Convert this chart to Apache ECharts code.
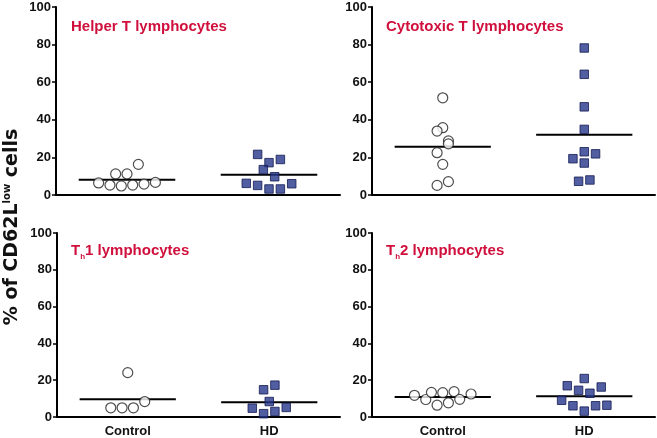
<!DOCTYPE html>
<html>
<head>
<meta charset="utf-8">
<script src="https://cdn.jsdelivr.net/npm/echarts@6/dist/echarts.min.js"></script>
<style>html,body{margin:0;padding:0;background:#fff}#c{width:657px;height:438px}</style>
</head>
<body>
<div id="c"></div>
<script>
// ---- data ----
const categories = ['Control', 'HD'];
const yTicks = [0, 20, 40, 60, 80, 100];

const helperControl = [6.4, 5.3, 4.8, 5.3, 5.8, 6.7, 11.2, 11.2, 16.3];
const helperControlJit = [-2.5, -1.5, -0.5, 0.5, 1.5, 2.5, -1, 0, 1];
const helperHD = [21.6, 17.2, 18.9, 13.5, 9.7, 6.2, 5.1, 6.0, 3.2, 3.2];
const helperHDJit = [-1, 0, 1, -0.5, 0.5, -2, -1, 2, 0, 1];
const helperMeans = [8.1, 10.8];

const cytoControl = [51.7, 35.8, 34.0, 28.8, 27.2, 22.5, 16.3, 7.1, 5.1];
const cytoControlJit = [0, 0, -0.5, 0.5, 0.5, -0.5, 0, 0.5, -0.5];
const cytoHD = [78.2, 64.2, 46.9, 34.9, 23.0, 19.3, 21.9, 17.0, 7.3, 8.0];
const cytoHDJit = [0, 0, 0, 0, 0, -1, 1, 0, -0.5, 0.5];
const cytoMeans = [25.7, 32.0];

const th1Control = [5.0, 5.0, 5.0, 8.4, 24.1];
const th1ControlJit = [-1.5, -0.5, 0.5, 1.5, 0];
const th1HD = [14.8, 17.3, 8.4, 4.8, 5.2, 1.8, 3.0];
const th1HDJit = [-0.5, 0.5, 0, -1.5, 1.5, -0.5, 0.5];
const th1Means = [9.6, 8.0];

const th2Control = [11.8, 9.5, 13.4, 6.4, 13.2, 7.7, 13.8, 9.6, 12.5];
const th2ControlJit = [-2.5, -1.5, -1, -0.5, 0, 0.5, 1, 1.5, 2.5];
const th2HD = [20.9, 17.0, 16.3, 14.5, 12.9, 9.1, 6.1, 6.1, 6.4, 3.2];
const th2HDJit = [0, -1.5, 1.5, -0.5, 0.5, -2, -1, 1, 2, 0];
const th2Means = [10.9, 11.25];

const panelTitles = [
  'Helper T lymphocytes',
  'Cytotoxic T lymphocytes',
  '{b|T}{s|h}{b|1 lymphocytes}',
  '{b|T}{s|h}{b|2 lymphocytes}'
];

// ---- layout / style ----
const FONT = '"Liberation Sans", Arial, sans-serif';
const RED = '#d0103c';
const STEP = 0.08;      // jitter unit (x-axis units)
const HALF = 0.34;      // half width of mean bar
const grids = [
  {left: 56, top: 7, width: 284, height: 188},
  {left: 372, top: 7, width: 283, height: 188},
  {left: 57, top: 233, width: 283, height: 186},
  {left: 372, top: 233, width: 283, height: 186}
];
const titlePos = [[71, 19], [386, 19], [71, 243], [386, 243]];

const panels = [
  [helperControl, helperControlJit, helperHD, helperHDJit, helperMeans],
  [cytoControl, cytoControlJit, cytoHD, cytoHDJit, cytoMeans],
  [th1Control, th1ControlJit, th1HD, th1HDJit, th1Means],
  [th2Control, th2ControlJit, th2HD, th2HDJit, th2Means]
];

const xAxis = [], yAxis = [], series = [], title = [];
panels.forEach((p, i) => {
  const bottom = i >= 2;
  xAxis.push({
    type: 'value', gridIndex: i, min: 0, max: 2, interval: 0.5,
    splitLine: {show: false},
    axisTick: {show: false},
    axisLine: {show: true, onZero: false, lineStyle: {color: '#000', width: 2}},
    axisLabel: {
      show: bottom, margin: 8, color: '#111', fontFamily: FONT, fontWeight: 'bold', fontSize: 13,
      showMinLabel: false, showMaxLabel: false,
      formatter: v => Math.abs(v - 0.5) < 1e-6 ? categories[0] : (Math.abs(v - 1.5) < 1e-6 ? categories[1] : '')
    }
  });
  yAxis.push({
    type: 'value', gridIndex: i, min: yTicks[0], max: yTicks[yTicks.length - 1], interval: 20,
    splitLine: {show: false},
    axisLine: {show: true, lineStyle: {color: '#000', width: 2}},
    axisTick: {show: true, length: 4, lineStyle: {color: '#000', width: 1.5}},
    axisLabel: {margin: 5, color: '#111', fontFamily: FONT, fontWeight: 'bold', fontSize: 13}
  });
  const [c, cj, h, hj, m] = p;
  // mean bars
  [0, 1].forEach(g => {
    const cx = g + 0.5;
    series.push({
      type: 'line', xAxisIndex: i, yAxisIndex: i, symbol: 'none', silent: true,
      lineStyle: {color: '#000', width: 2}, z: 1,
      data: [[cx - HALF, m[g]], [cx + HALF, m[g]]]
    });
  });
  series.push({
    type: 'scatter', xAxisIndex: i, yAxisIndex: i, symbol: 'circle', symbolSize: 10, z: 3,
    itemStyle: {color: '#fff', borderColor: '#222', borderWidth: 1.2},
    data: c.map((v, k) => [0.5 + cj[k] * STEP, v])
  });
  series.push({
    type: 'scatter', xAxisIndex: i, yAxisIndex: i, symbol: 'rect', symbolSize: 8.5, z: 3,
    itemStyle: {color: '#26368a', borderColor: '#141c52', borderWidth: 1},
    data: h.map((v, k) => [1.5 + hj[k] * STEP, v])
  });
  title.push({
    text: panelTitles[i], left: titlePos[i][0], top: titlePos[i][1], padding: 0,
    textStyle: {
      color: RED, fontFamily: FONT, fontWeight: 'bold', fontSize: 15,
      rich: {
        b: {color: RED, fontFamily: FONT, fontWeight: 'bold', fontSize: 15, verticalAlign: 'top'},
        s: {color: RED, fontFamily: FONT, fontWeight: 'bold', fontSize: 8, verticalAlign: 'top', padding: [10, 0, 0, 0]}
      }
    }
  });
});

const YFONT = '"DejaVu Sans", sans-serif';
const chart = echarts.init(document.getElementById('c'));
chart.setOption({
  animation: false,
  backgroundColor: '#fff',
  title: title,
  grid: grids,
  xAxis: xAxis,
  yAxis: yAxis,
  series: series,
  graphic: [{
    type: 'text', x: 12, y: 227, rotation: Math.PI / 2,
    style: {
      text: '{m|% of CD62L}{u|low}{m| cells}',
      align: 'center', verticalAlign: 'middle',
      rich: {
        m: {fontFamily: YFONT, fontWeight: 'bold', fontSize: 19, fill: '#111', verticalAlign: 'top'},
        u: {fontFamily: YFONT, fontWeight: 'bold', fontSize: 10, fill: '#111', verticalAlign: 'top'}
      }
    }
  }]
});
</script>
</body>
</html>
